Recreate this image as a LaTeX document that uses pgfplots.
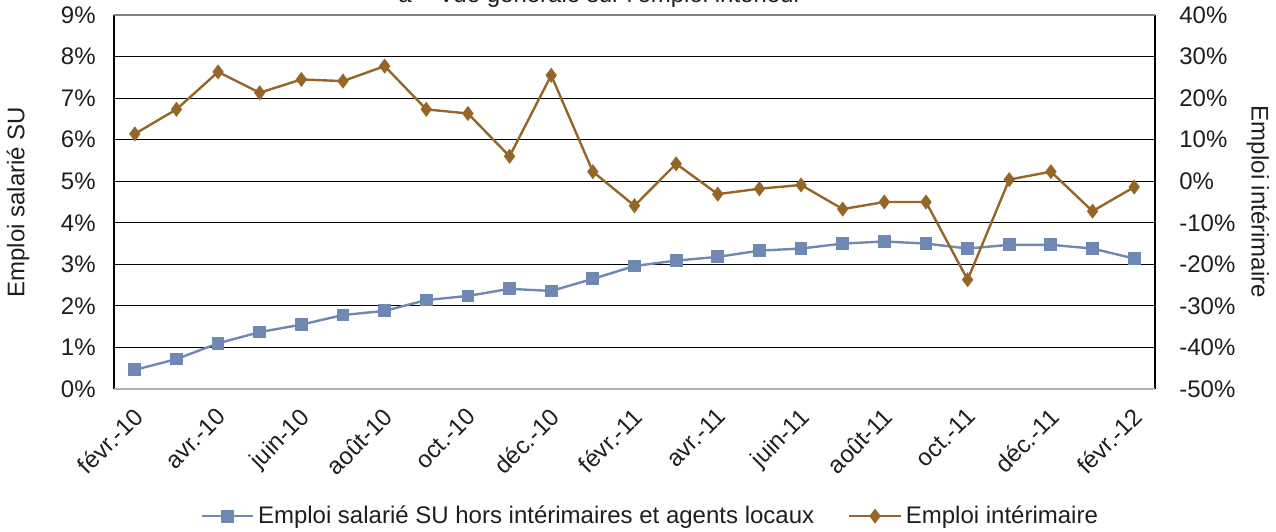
\documentclass[border=0pt]{standalone}
\usepackage{pgfplots}
\pgfplotsset{compat=1.18}
\usepackage{fontspec}
\setmainfont{Liberation Sans}
\definecolor{cblue}{RGB}{112,136,180}
\definecolor{cbrown}{RGB}{150,101,40}
\definecolor{txt}{RGB}{30,30,30}
\begin{document}
\fontsize{12pt}{14pt}\selectfont
\begin{tikzpicture}
\pgfplotsset{
  common/.style={
    scale only axis, width=520.5pt, height=187pt,
    xmin=-0.5, xmax=24.5,
    /pgf/number format/assume math mode=true,
    tick style={draw=none},
    ticklabel style={font=\fontsize{12pt}{14pt}\selectfont, text=txt},
    label style={font=\fontsize{12pt}{14pt}\selectfont, text=txt},
  }
}
\begin{axis}[common,
  ymin=0, ymax=9, ytick={0,1,...,9},
  yticklabel={\pgfmathprintnumber{\tick}\%},
  ymajorgrids, grid style={black, line width=0.6pt},
  axis line style={draw=none},
  xtick={0,2,...,24},
  xticklabels={févr.-10,avr.-10,juin-10,août-10,oct.-10,déc.-10,févr.-11,avr.-11,juin-11,août-11,oct.-11,déc.-11,févr.-12},
  xticklabel style={rotate=45, anchor=north east, xshift=-3pt, yshift=-1pt},
  ylabel={Emploi salarié SU},
  ylabel style={at={(rel axis cs:0,0.5)}, anchor=center, yshift=48pt},
  yticklabel style={xshift=-5pt},
]
\addplot[cblue, line width=1.2pt, mark=square*, mark size=2.6pt, mark options={fill=cblue, draw=cblue}] coordinates {
(0,0.46)(1,0.72)(2,1.10)(3,1.37)(4,1.55)(5,1.78)(6,1.88)(7,2.14)(8,2.24)(9,2.41)(10,2.36)(11,2.65)(12,2.96)(13,3.09)(14,3.18)(15,3.33)(16,3.38)(17,3.50)(18,3.55)(19,3.50)(20,3.38)(21,3.47)(22,3.47)(23,3.38)(24,3.14)};
\end{axis}
\begin{axis}[common,
  ymin=-50, ymax=40, ytick={-50,-40,...,40},
  yticklabel={\pgfmathprintnumber{\tick}\%},
  axis x line=none,
  axis y line*=right,
  axis line style={black, line width=0.6pt, -},
  ylabel={Emploi intérimaire},
  ylabel style={rotate=180, at={(rel axis cs:1,0.5)}, anchor=center, yshift=51.5pt},
  yticklabel style={xshift=8pt},
  legend columns=2,
  legend style={at={(rel axis cs:0.516,-0.34)}, anchor=center, draw=none, fill=none,
    font=\fontsize{12pt}{14pt}\selectfont, text=txt,
    /tikz/every even column/.append style={column sep=15pt},
    inner sep=0pt},
  legend image code/.code={\draw[mark repeat=2,mark phase=2] plot coordinates {(0cm,0cm)(0.45cm,0cm)(0.9cm,0cm)};},
]
\addlegendimage{cblue, line width=1.2pt, mark=square*, mark size=2.6pt, mark options={fill=cblue, draw=cblue}}
\addlegendentry{Emploi salarié SU hors intérimaires et agents locaux}
\addplot[cbrown, line width=1.2pt, mark=diamond*, mark size=2.8pt, mark options={fill=cbrown, draw=cbrown}] coordinates {
(0,11.4)(1,17.3)(2,26.3)(3,21.3)(4,24.5)(5,24.1)(6,27.7)(7,17.3)(8,16.3)(9,6.0)(10,25.5)(11,2.3)(12,-5.9)(13,4.2)(14,-3.1)(15,-1.8)(16,-0.9)(17,-6.7)(18,-5.0)(19,-5.0)(20,-23.7)(21,0.4)(22,2.3)(23,-7.2)(24,-1.4)};
\addlegendentry{Emploi intérimaire}
\end{axis}
\draw[black, line width=0.6pt] (0,0) -- (0,187pt);
\draw[black!30, line width=0.6pt] (0,0) -- (520.5pt,0);
\draw[black!50, line width=0.6pt] (0,187pt) -- (520.5pt,187pt);
\node[anchor=base, text=txt, font=\fontsize{12pt}{14pt}\selectfont] at (243pt,193pt) {a – Vue générale sur l'emploi intérieur};
\pgfresetboundingbox
\path[use as bounding box] (-57pt,-71pt) rectangle (581pt,194.5pt);
\end{tikzpicture}
\end{document}
